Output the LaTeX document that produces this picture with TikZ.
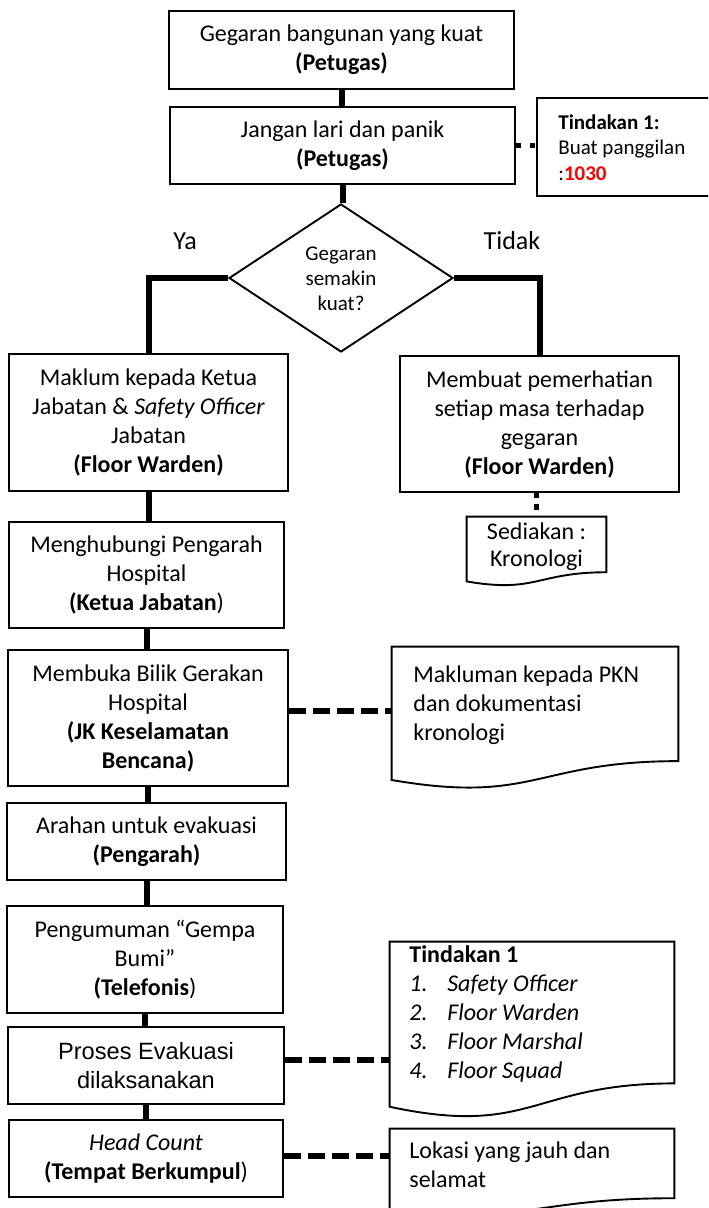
\documentclass[tikz,border=0pt]{standalone}
\usepackage{fontspec}
\setmainfont{Carlito}
\newfontfamily\arialfont{Liberation Sans}
\usetikzlibrary{shapes.geometric,calc}
\definecolor{tred}{RGB}{255,0,0}
\tikzset{
  box/.style={draw, line width=0.95pt, rectangle, align=center, inner sep=0pt, font=\fontsize{12}{14.5}\selectfont},
  flow/.style={line width=3pt},
  dashcon/.style={line width=3pt, dash pattern=on 8.5pt off 3.5pt},
  dotcon/.style={line width=2.75pt, dash pattern=on 2.75pt off 3pt},
  docframe/.style={rectangle, inner sep=0pt},
  doctext/.style={align=left, inner sep=0pt, anchor=west, font=\fontsize{12}{14.5}\selectfont},
  outline/.style={line width=0.95pt},
}
\newcommand\docoutline[1]{\draw[outline] (#1.north west) -- (#1.north east) -- ($(#1.north east)!0.802!(#1.south east)$) .. controls ($(#1.north)!0.802!(#1.south)$) and ($(#1.north)!1.107!(#1.south)$) .. ($(#1.north west)!0.934!(#1.south west)$) -- cycle;}
\begin{document}
\begin{tikzpicture}[x=0.5pt,y=-0.5pt]
\useasboundingbox (0,0) rectangle (708,1208);
\clip (0,0) rectangle (708,1208);
\fill[white] (0,0) rectangle (708,1208);

% main column top
\node[box, minimum width=172.5pt, minimum height=39pt] (b1) at (341.5,50) {Gegaran bangunan yang kuat\\\textbf{(Petugas)}};
\node[box, minimum width=172.5pt, minimum height=38.5pt] (b2) at (342.5,145.5) {Jangan lari dan panik\\\textbf{(Petugas)}};
\node[box, minimum width=100pt, minimum height=49pt] (t1) at (637,147) {};
\node[doctext, font=\fontsize{10.5}{12.75}\selectfont] (t1t) at (558,147.5) {\textbf{Tindakan 1:}\\Buat panggilan\\:\textbf{\color{tred}1030}};

% decision
\node[draw, diamond, line width=0.95pt, minimum width=112pt, minimum height=74pt, inner sep=0pt] (dia) at (341,278) {};
\node[font=\fontsize{10.5}{12.5}\selectfont, align=center, inner sep=0pt] (diat) at (341,279) {Gegaran\\semakin\\kuat?};
\node[font=\fontsize{13}{15}\selectfont, inner sep=0pt] (ya) at (185,241) {Ya};
\node[font=\fontsize{13}{15}\selectfont, inner sep=0pt] (tidak) at (512,241) {Tidak};

% branches
\node[box, minimum width=139.5pt, minimum height=68.5pt] (b3) at (148.5,422.5) {Maklum kepada Ketua\\Jabatan \& \textit{Safety Officer}\\Jabatan\\\textbf{(Floor Warden)}};
\node[box, minimum width=139.5pt, minimum height=68pt] (b4) at (539.5,424) {Membuat pemerhatian\\setiap masa terhadap\\gegaran\\\textbf{(Floor Warden)}};
\node[docframe, minimum width=69.5pt, minimum height=34.3pt] (sed) at (536.5,551.3) {};
\docoutline{sed}
\node[font=\fontsize{12}{13.5}\selectfont, align=center, inner sep=0pt] (sedt) at (536.5,546.5) {Sediakan :\\Kronologi};

% left column
\node[box, minimum width=137.5pt, minimum height=53pt] (b5) at (146.5,575) {Menghubungi Pengarah\\Hospital\\\textbf{(Ketua Jabatan})};
\node[box, minimum width=140pt, minimum height=68pt] (b6) at (148,718) {Membuka Bilik Gerakan\\Hospital\\\textbf{(JK Keselamatan}\\\textbf{Bencana)}};
\node[docframe, minimum width=143pt, minimum height=71pt] (pkn) at (535,718) {};
\docoutline{pkn}
\node[doctext] (pknt) at (413,705.5) {Makluman kepada PKN\\dan dokumentasi\\kronologi};
\node[box, minimum width=139.5pt, minimum height=38.5pt] (b7) at (146.5,841.5) {Arahan untuk evakuasi\\\textbf{(Pengarah)}};
\node[box, minimum width=138pt, minimum height=53.5pt] (b8) at (145,959.5) {Pengumuman “Gempa\\Bumi”\\\textbf{(Telefonis})};
\node[box, minimum width=138pt, minimum height=38.5pt, font=\arialfont\fontsize{11.8}{14.5}\selectfont] (b9) at (146,1065.5) {Proses Evakuasi\\dilaksanakan};
\node[docframe, minimum width=142pt, minimum height=88pt] (lst) at (532,1030) {};
\docoutline{lst}
\node[doctext] (lstt) at (409,1014) {\textbf{Tindakan 1}\\
\makebox[19pt][l]{\textit{1.}}\textit{Safety Officer}\\
\makebox[19pt][l]{\textit{2.}}\textit{Floor Warden}\\
\makebox[19pt][l]{\textit{3.}}\textit{Floor Marshal}\\
\makebox[19pt][l]{\textit{4.}}\textit{Floor Squad}};
\node[box, minimum width=137pt, minimum height=38.5pt] (b10) at (146,1158.5) {\textit{Head Count}\\\textbf{(Tempat Berkumpul})};
\node[docframe, minimum width=142pt, minimum height=43pt] (lok) at (532,1172) {};
\docoutline{lok}
\node[doctext] (lokt) at (409,1164.5) {Lokasi yang jauh dan\\selamat};

% connectors
\draw[flow] (b1.south) -- (b1.south |- b2.north);
\draw[flow] (b2.south) -- (b2.south |- dia.north);
\draw[dotcon, dash pattern=on 2.75pt off 4.25pt] (b2.east) -- (b2.east -| t1.west);
\draw[flow] (dia.west) -| (b3.north);
\draw[flow] (dia.east) -| (b4.north);
\draw[dotcon] (sed.north |- b4.south) -- (sed.north);
\draw[flow] (b3.south) -- (b3.south |- b5.north);
\draw[flow] (b5.south) -- (b5.south |- b6.north);
\draw[flow] (b6.south) -- (b6.south |- b7.north);
\draw[flow] (b7.south) -- (b7.south |- b8.north);
\draw[flow] (b8.south) -- (b8.south |- b9.north);
\draw[flow] (b9.south) -- (b9.south |- b10.north);
\draw[dashcon] ([yshift=3.5pt]b6.east) -- ([yshift=3.5pt]b6.east -| pkn.west);
\draw[dashcon] ([yshift=2.75pt]b9.east) -- ([yshift=2.75pt]b9.east -| lst.west);
\draw[dashcon] ([yshift=1.25pt]b10.east) -- ([yshift=1.25pt]b10.east -| lok.west);
\end{tikzpicture}
\end{document}
